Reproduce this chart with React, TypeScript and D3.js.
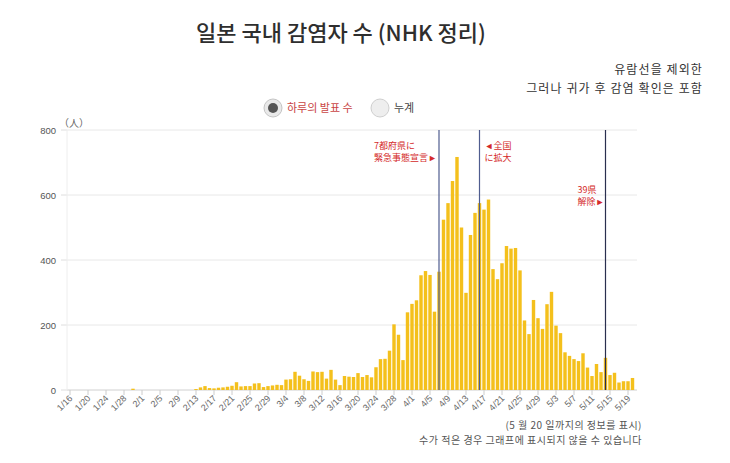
import React from "react";
import * as d3 from "d3";

const START = new Date(2020, 0, 16);
const END = new Date(2020, 4, 21);

const JAN_VALUES = [0, 0, 0, 0, 0, 0, 0, 0, 0, 0, 0, 0, 0, 0, 4, 0];
const FEB_VALUES = [0, 0, 0, 0, 0, 0, 0, 0, 0, 0, 0, 0, 3, 8, 12, 6, 5, 7, 8, 10, 13, 24, 11, 12, 12, 20, 21, 9, 12];
const MAR_VALUES = [14, 16, 15, 32, 33, 56, 44, 33, 28, 57, 55, 56, 35, 62, 32, 15, 43, 41, 40, 52, 40, 46, 39, 70, 95, 96, 121, 202, 170, 92, 239];
const APR_VALUES = [265, 276, 353, 366, 354, 241, 364, 524, 575, 643, 717, 500, 299, 477, 545, 575, 555, 586, 372, 341, 390, 443, 435, 437, 368, 214, 172, 277, 221, 188];
const MAY_VALUES = [264, 302, 198, 175, 116, 105, 95, 89, 113, 69, 43, 80, 55, 99, 46, 53, 23, 27, 27, 37];

const DAILY = [...JAN_VALUES, ...FEB_VALUES, ...MAR_VALUES, ...APR_VALUES, ...MAY_VALUES];

const X_TICK_LABELS = ["1/16", "1/20", "1/24", "1/28", "2/1", "2/5", "2/9", "2/13", "2/17", "2/21", "2/25", "2/29", "3/4", "3/8", "3/12", "3/16", "3/20", "3/24", "3/28", "4/1", "4/5", "4/9", "4/13", "4/17", "4/21", "4/25", "4/29", "5/3", "5/7", "5/11", "5/15", "5/19"];
const Y_TICKS = [0, 200, 400, 600, 800];

const EVENTS = [
  { date: "4/7", lines: ["7都府県に", "緊急事態宣言►"], dx: -65, y: 149, color: "#4f5d8f" },
  { date: "4/16", lines: ["◄全国", "に拡大"], dx: 5, y: 149, color: "#4f5d8f" },
  { date: "5/14", lines: ["39県", "解除►"], dx: -28, y: 193, color: "#2a2f4f" },
];

const fmt = d3.timeFormat("%-m/%-d");
const dates = d3.timeDay.range(START, END);
const labels = dates.map((d) => fmt(d));
const data = labels.map((l, i) => ({ label: l, value: DAILY[i] ?? 0 }));

const FONT = "'Noto Sans CJK KR', 'Noto Sans', sans-serif";
const FONT_JP = "'Noto Sans CJK JP', 'Noto Sans', sans-serif";

export default function App() {
  const W = 730, H = 463;
  const x = d3.scaleBand<string>().domain(labels).range([67.75, 634.75]).paddingInner(0.24).paddingOuter(0.12);
  const y = d3.scaleLinear().domain([0, 800]).range([390, 130]);
  const cx = (l: string) => (x(l) ?? 0) + x.bandwidth() / 2;
  const gridX0 = 67, gridX1 = 637;

  return (
    <svg width={W} height={H} style={{ position: "absolute", left: 0, top: 0, background: "#fff" }} fontFamily={FONT}>
      {/* Title */}
      <text x={341} y={41} textAnchor="middle" fontSize={22} fontWeight={500} fill="#2e2e2e">
        일본 국내 감염자 수 (NHK 정리)
      </text>
      <text x={703} y={74} textAnchor="end" fontSize={12} letterSpacing={1.1} fill="#333">유람선을 제외한</text>
      <text x={703} y={93} textAnchor="end" fontSize={12} letterSpacing={1.1} fill="#333">그러나 귀가 후 감염 확인은 포함</text>

      {/* Legend radio buttons */}
      <g>
        <circle cx={273} cy={108} r={9} fill="#e9e9e9" stroke="#c4c4c4" strokeWidth={1} />
        <circle cx={273} cy={108} r={5} fill="#555" />
        <text x={287} y={112} fontSize={11} fill="#c94545">하루의 발표 수</text>
        <circle cx={380} cy={108} r={9} fill="#eeeeee" stroke="#cfcfcf" strokeWidth={1} />
        <text x={394} y={112} fontSize={11} fill="#444">누계</text>
      </g>

      {/* Grid */}
      {Y_TICKS.map((t) => (
        <g key={t}>
          <line x1={gridX0} x2={gridX1} y1={y(t)} y2={y(t)} stroke={t === 0 ? "#d0d0d0" : "#e8e8e8"} strokeWidth={1} />
          <line x1={61} x2={gridX0} y1={y(t)} y2={y(t)} stroke="#dedede" strokeWidth={1} />
          <text x={56} y={y(t) + 3.5} textAnchor="end" fontSize={9.5} fill="#555" fontFamily="'Liberation Sans', Arial, sans-serif">{t}</text>
        </g>
      ))}
      <line x1={gridX0} x2={gridX0} y1={130} y2={390} stroke="#eeeeee" strokeWidth={1} />
      <text x={59} y={127} fontSize={10} fill="#666" fontFamily={FONT_JP}>（人）</text>

      {/* Bars */}
      {data.map((d) => (
        <rect key={d.label} x={x(d.label)} y={y(d.value)} width={x.bandwidth()} height={390 - y(d.value)} fill="#f4c01c" />
      ))}

      {/* X axis */}
      {X_TICK_LABELS.map((l) => (
        <g key={l}>
          <line x1={cx(l)} x2={cx(l)} y1={390} y2={395} stroke="#cccccc" strokeWidth={1} />
          <text transform={`translate(${cx(l) + 3},${399}) rotate(-45)`} textAnchor="end" fontSize={9} fill="#666" fontFamily="'Liberation Sans', Arial, sans-serif">{l}</text>
        </g>
      ))}

      {/* Event lines and annotations */}
      {EVENTS.map((e) => {
        const lx = cx(e.date);
        return (
          <g key={e.date}>
            <line x1={lx} x2={lx} y1={130} y2={390} stroke={e.color} strokeWidth={1.2} />
            {e.lines.map((t, i) => (
              <text key={i} x={lx + e.dx} y={e.y + i * 12} fontSize={9} fill="#d42a2a" fontFamily={FONT_JP}>{t}</text>
            ))}
          </g>
        );
      })}

      {/* Footnotes */}
      <text x={642} y={429} textAnchor="end" fontSize={10} letterSpacing={0.5} fill="#555">(5 월 20 일까지의 정보를 표시)</text>
      <text x={642} y={444} textAnchor="end" fontSize={10} letterSpacing={0.5} fill="#555">수가 적은 경우 그래프에 표시되지 않을 수 있습니다</text>
    </svg>
  );
}
